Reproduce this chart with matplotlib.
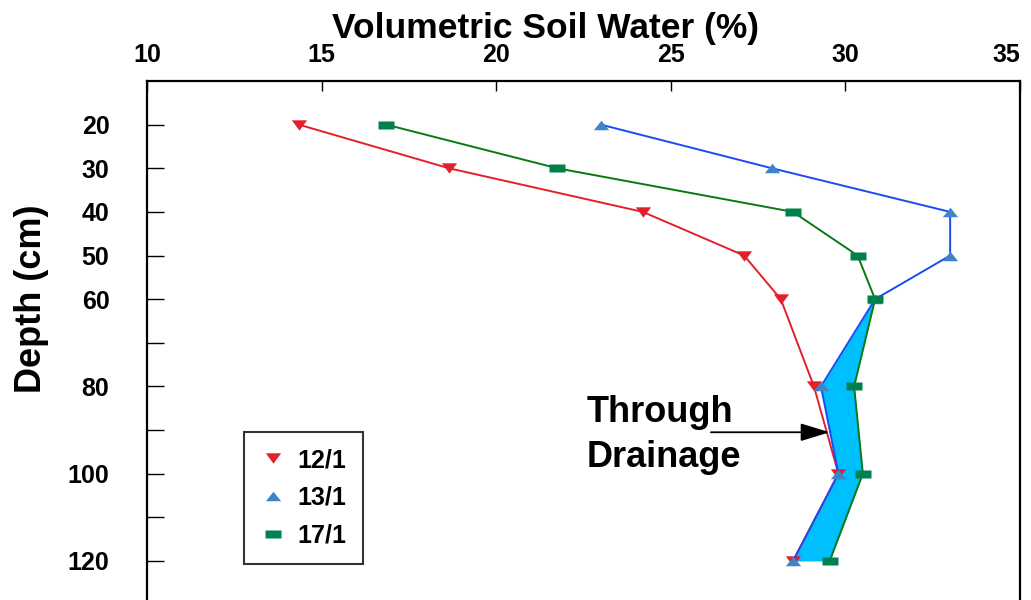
import numpy as np
import matplotlib.pyplot as plt
from matplotlib.path import Path

plt.rcParams['font.family'] = ['Liberation Sans', 'DejaVu Sans']
plt.rcParams['font.weight'] = 'bold'

# depths (cm) and volumetric soil water (%) per sampling date
depth = [20, 30, 40, 50, 60, 80, 100, 120]
swc_12_1 = [14.35, 18.65, 24.2, 27.1, 28.15, 29.1, 29.8, 28.5]
swc_13_1 = [23.0, 27.9, 33.0, 33.0, 30.85, 29.3, 29.8, 28.5]
swc_17_1 = [16.85, 21.75, 28.5, 30.35, 30.85, 30.25, 30.5, 29.55]

x_ticks = [10, 15, 20, 25, 30, 35]
y_ticks = [20, 30, 40, 50, 60, 70, 80, 90, 100, 110, 120]
y_labels = ['20', '30', '40', '50', '60', '', '80', '', '100', '', '120']

# flattened marker shapes like the original software draws
tri_down = Path([(-1, 0.68), (1, 0.68), (0, -0.68), (-1, 0.68)], closed=True)
tri_up = Path([(-1, -0.62), (1, -0.62), (0, 0.62), (-1, -0.62)], closed=True)
rect = Path([(-1, -0.58), (1, -0.58), (1, 0.58), (-1, 0.58), (-1, -0.58)], closed=True)

fig = plt.figure(figsize=(10.31, 6.0), dpi=100)
ax = fig.add_axes([147 / 1031, -0.0077, 873 / 1031, 0.8727])

# drainage band between 13/1 and 17/1 below 60 cm
i0 = depth.index(60)
ax.fill_betweenx(depth[i0:], swc_13_1[i0:], swc_17_1[i0:], color='#00bfff', lw=0, zorder=1)

ax.plot(swc_12_1, depth, color='#e3202a', lw=1.4, marker=tri_down, ms=11,
        mfc='#e3202a', mec='none', label='12/1', zorder=3)
ax.plot(swc_13_1, depth, color='#1a4cf5', lw=1.4, marker=tri_up, ms=11,
        mfc='#3f83c8', mec='none', label='13/1', zorder=4)
ax.plot(swc_17_1, depth, color='#0a7a10', lw=1.4, marker=rect, ms=11,
        mfc='#00804f', mec='none', label='17/1', zorder=5)

ax.set_xlim(10, 35)
ax.set_ylim(130, 10)
ax.xaxis.tick_top()
ax.set_xticks(x_ticks)
ax.set_yticks(y_ticks)
ax.set_yticklabels(y_labels)
ax.tick_params(axis='x', direction='in', length=7, width=1, pad=10, labelsize=18)
ax.tick_params(axis='y', direction='in', length=12, width=1, pad=27, labelsize=18)
for lab in ax.get_xticklabels() + ax.get_yticklabels():
    lab.set_fontweight('bold')
ax.get_xticklabels()[-1].set_horizontalalignment('right')
for side in ['left', 'top', 'right']:
    ax.spines[side].set_linewidth(1.6)
ax.spines['bottom'].set_visible(False)

# annotation
ax.annotate('', xy=(29.55, 90.5), xytext=(26.15, 90.5),
            arrowprops=dict(arrowstyle='-|>,head_length=1.8,head_width=0.55',
                            color='black', lw=1.3, shrinkA=0, shrinkB=0), zorder=6)
ax.text(22.6, 88.2, 'Through', fontsize=26, fontweight='bold', va='baseline', ha='left')
ax.text(22.6, 98.5, 'Drainage', fontsize=26, fontweight='bold', va='baseline', ha='left')

leg = ax.legend(loc='upper left', bbox_to_anchor=(0.111, 0.330), borderaxespad=0,
                fontsize=18, frameon=True, fancybox=False, handlelength=1.0,
                handletextpad=0.5, borderpad=0.65, labelspacing=0.55)
leg.get_frame().set_edgecolor('black')
leg.get_frame().set_linewidth(1.5)
for h in leg.legend_handles:
    h.set_linestyle('none')
for t in leg.get_texts():
    t.set_fontweight('bold')

fig.text(546 / 1031, 1 - 38 / 600, 'Volumetric Soil Water (%)', fontsize=25.5,
         fontweight='bold', ha='center', va='baseline')
fig.text(32 / 1031, 1 - 299 / 600, 'Depth (cm)', fontsize=26, fontweight='bold',
         rotation=90, ha='center', va='center')

fig.savefig('out.png', dpi=100)
